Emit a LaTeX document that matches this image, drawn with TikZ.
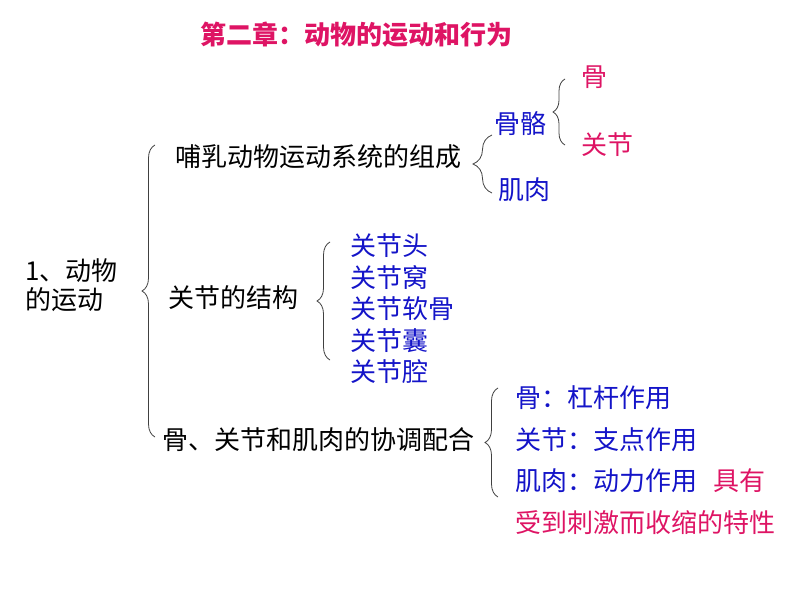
\documentclass[tikz,border=0pt]{standalone}
\usepackage{fontspec}
\setmainfont{Noto Sans CJK SC}
\usetikzlibrary{positioning,decorations.pathreplacing}
\definecolor{TitleRed}{RGB}{222, 20, 100}
\definecolor{ItemBlue}{RGB}{20, 20, 200}
\begin{document}
\begin{tikzpicture}[x=1pt, y=-1pt,
  txt/.style={anchor=west, inner sep=0pt, font=\fontsize{26}{30}\selectfont},
  item/.style={txt, text=ItemBlue},
  note/.style={txt, text=TitleRed},
  brc/.style={draw=black!75, line width=0.8pt, decorate, decoration={brace, amplitude=#1}}]
  \useasboundingbox (0,0) rectangle (794,596);

  % Title
  \node[note, anchor=center, font=\fontsize{26}{30}\selectfont\bfseries] (title) at (356,35) {第二章：动物的运动和行为};

  % Root
  \node[txt] (root1) at (25,271) {1、动物};
  \node[txt] (root2) at (25,300) {的运动};
  \draw[brc=13] (155,437) -- (155,145);

  % Composition
  \node[txt] (sys) at (175,157) {哺乳动物运动系统的组成};
  \draw[brc=19] (492,193) -- (492,135);
  \node[item] (skel) at (494,124) {骨骼};
  \node[item] (muscle) at (498,190) {肌肉};
  \draw[brc=12] (565,145) -- (565,79);
  \node[note] (bone) at (581,77) {骨};
  \node[note] (joint) at (581,145) {关节};

  % Joint structure
  \node[txt] (struct) at (168,298) {关节的结构};
  \draw[brc=13] (330,360) -- (330,242);
  \foreach \name [count=\i] in {关节头,关节窝,关节软骨,关节囊,关节腔} {
    \pgfmathsetmacro{\ypos}{214.5 + 31.5*\i}
    \node[item] (part\i) at (350, \ypos) {\name};
  }

  % Cooperation
  \node[txt] (coop) at (162,440) {骨、关节和肌肉的协调配合};
  \draw[brc=13] (498,497) -- (498,388);
  \node[item] (lever) at (515,398) {骨：杠杆作用};
  \node[item] (pivot) at (515,440) {关节：支点作用};
  \node[item] (power) at (515,481) {肌肉：动力作用};
  \node[note, right=16pt of power] (have) {具有};
  \node[note] (trait) at (515,523) {受到刺激而收缩的特性};
\end{tikzpicture}
\end{document}
